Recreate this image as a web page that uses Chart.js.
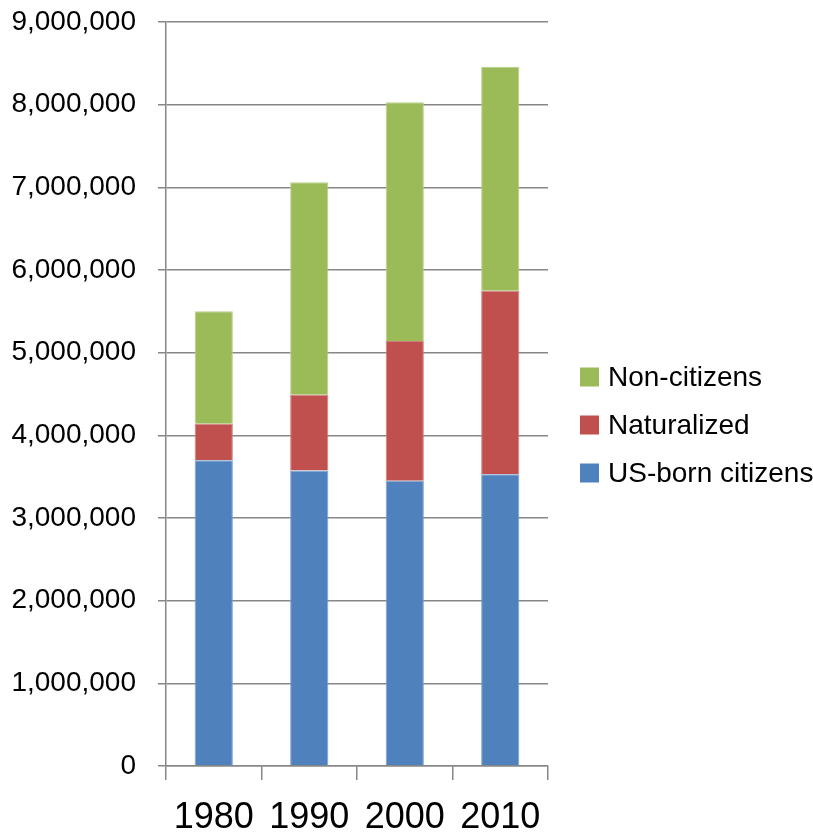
<!DOCTYPE html>
<html>
<head>
<meta charset="utf-8">
<script src="https://cdn.jsdelivr.net/npm/chart.js@4"></script>
<style>
  html, body { margin: 0; padding: 0; background: #fff; }
  #wrap { width: 813px; height: 838px; }
</style>
</head>
<body>
<div id="wrap"><canvas id="popChart" width="813" height="838"></canvas></div>
<script>
// census years and population by citizenship status
const years = ["1980", "1990", "2000", "2010"];
const usBorn = [3700000, 3575000, 3450000, 3530000];
const naturalized = [440000, 915000, 1690000, 2220000];
const nonCitizens = [1360000, 2570000, 2890000, 2710000];
const yTicks = [0, 1000000, 2000000, 3000000, 4000000, 5000000, 6000000, 7000000, 8000000, 9000000];

const axisGray = '#878787';

// legend on the right, drawn by hand so it isn't squeezed by the y axis
const sideLegend = {
    id: 'sideLegend',
    afterDraw(chart) {
        const c = chart.ctx;
        const sets = chart.data.datasets.slice().reverse();
        const boxX = chart.chartArea.right + 32;
        const midY = 425;
        const rowGap = 48;
        c.save();
        c.font = "28px 'Liberation Sans', Arial, sans-serif";
        c.textBaseline = 'middle';
        sets.forEach((ds, i) => {
            const y = midY + (i - (sets.length - 1) / 2) * rowGap;
            c.fillStyle = ds.backgroundColor;
            c.fillRect(boxX, y - 9.5, 19, 19);
            c.fillStyle = '#000';
            c.fillText(ds.label, boxX + 28, y + 1);
        });
        c.restore();
    }
};

window.onload = () => {
    const ctx = document.getElementById("popChart");
    Chart.defaults.font.family = "'Liberation Sans', Arial, sans-serif";
    Chart.defaults.color = "#000";

    new Chart(ctx, {
        type: 'bar',
        data: {
            labels: years,
            datasets: [{
                label: 'US-born citizens',
                data: usBorn,
                backgroundColor: '#4F81BD',
                borderColor: '#7d9fcc',
                borderWidth: 1
            }, {
                label: 'Naturalized',
                data: naturalized,
                backgroundColor: '#C0504D',
                borderColor: '#d07f7d',
                borderWidth: 1
            }, {
                label: 'Non-citizens',
                data: nonCitizens,
                backgroundColor: '#9BBB59',
                borderColor: '#b9d08a',
                borderWidth: 1
            }]
        },
        options: {
            responsive: false,
            animation: false,
            barPercentage: 0.4,
            categoryPercentage: 1,
            layout: {
                padding: { top: 22, left: 11, right: 265, bottom: 2 }
            },
            plugins: {
                tooltip: { enabled: false },
                legend: { display: false }
            },
            scales: {
                x: {
                    stacked: true,
                    afterFit: axis => {
                        axis.height = 70;
                    },
                    grid: {
                        offset: true,
                        drawOnChartArea: false,
                        drawTicks: true,
                        tickLength: 14,
                        lineWidth: 1.5,
                        color: axisGray
                    },
                    border: { color: axisGray, width: 1.5 },
                    ticks: {
                        padding: 20,
                        font: { size: 36, lineHeight: 1.0 },
                        color: '#000'
                    }
                },
                y: {
                    stacked: true,
                    min: 0,
                    max: 9000000,
                    afterBuildTicks: axis => {
                        axis.ticks = yTicks.map(v => ({ value: v }));
                    },
                    afterFit: axis => {
                        axis.width = 155;
                        axis.paddingTop = 0;
                        axis.paddingBottom = 0;
                    },
                    grid: {
                        color: axisGray,
                        lineWidth: 1.5,
                        tickLength: 8
                    },
                    border: { color: axisGray, width: 1.5 },
                    ticks: {
                        padding: 22,
                        font: { size: 28 },
                        color: '#000',
                        callback: v => v.toLocaleString('en-US')
                    }
                }
            }
        },
        plugins: [sideLegend]
    });
}
</script>
</body>
</html>
